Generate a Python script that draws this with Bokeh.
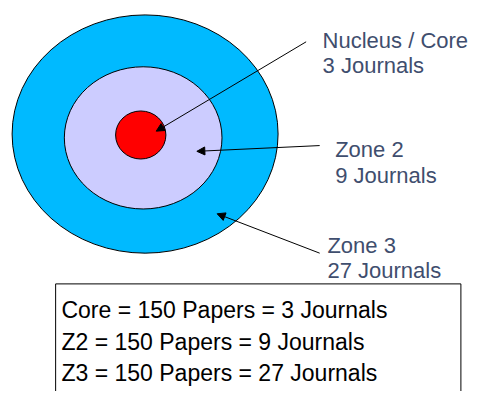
from bokeh.plotting import figure
from bokeh.models import Range1d, Arrow, NormalHead
from bokeh.core.properties import value
from bokeh.embed import file_html
from bokeh.resources import INLINE

# ---- data ----
zones = ["Zone 3", "Zone 2", "Nucleus / Core"]
journals = [27, 9, 3]
papers = [150, 150, 150]
zone_colors = ["#00BAFF", "#CCCCFF", "#FF0000"]
label_titles = ["Nucleus / Core", "Zone 2", "Zone 3"]
label_journals = ["3 Journals", "9 Journals", "27 Journals"]
box_lines = ["Core = 150 Papers = 3 Journals",
             "Z2 = 150 Papers = 9 Journals",
             "Z3 = 150 Papers = 27 Journals"]

# ---- layout (reference-image coordinates, 488 x 407) ----
ell_x = [149.5, 147.5, 145]
ell_y = [139, 143, 140]
ell_w = [275, 163, 52]
ell_h = [248, 148, 50]

lab_x = [333, 346, 338]
lab_y1 = [42, 155, 255]
lab_y2 = [68, 182, 281]

arr_x0 = [316, 330, 330]
arr_y0 = [43, 151, 263]
arr_x1 = [161, 203, 224]
arr_y1 = [136, 157, 222]

W, H = 472, 391
p = figure(width=W, height=H, output_backend="svg", toolbar_location=None,
           x_range=Range1d(0, 488), y_range=Range1d(407, 0),
           min_border=0, outline_line_color=None)
p.axis.visible = False
p.grid.visible = False
p.background_fill_color = "white"

p.ellipse(x=ell_x, y=ell_y, width=ell_w, height=ell_h,
          fill_color=zone_colors, line_color="black", line_width=1)

for i in range(3):
    p.add_layout(Arrow(x_start=arr_x0[i], y_start=arr_y0[i],
                       x_end=arr_x1[i], y_end=arr_y1[i],
                       line_width=1, line_color="black",
                       end=NormalHead(size=8, fill_color="black", line_color="black")))

lab_color = "#3F4E6E"
p.text(x=lab_x, y=lab_y1, text=label_titles, text_font=value("Liberation Sans"),
       text_font_size="22px", text_color=lab_color, text_baseline="alphabetic")
p.text(x=lab_x, y=lab_y2, text=label_journals, text_font=value("Liberation Sans"),
       text_font_size="22px", text_color=lab_color, text_baseline="alphabetic")

# box
p.quad(left=[57], right=[476], top=[295], bottom=[420],
       fill_color=None, line_color="black", line_width=1)
p.text(x=[63, 63, 63], y=[322, 355, 388], text=box_lines,
       text_font=value("Liberation Sans"), text_font_size="23px",
       text_color="black", text_baseline="alphabetic")

open("out.html", "w").write(file_html(p, INLINE))
